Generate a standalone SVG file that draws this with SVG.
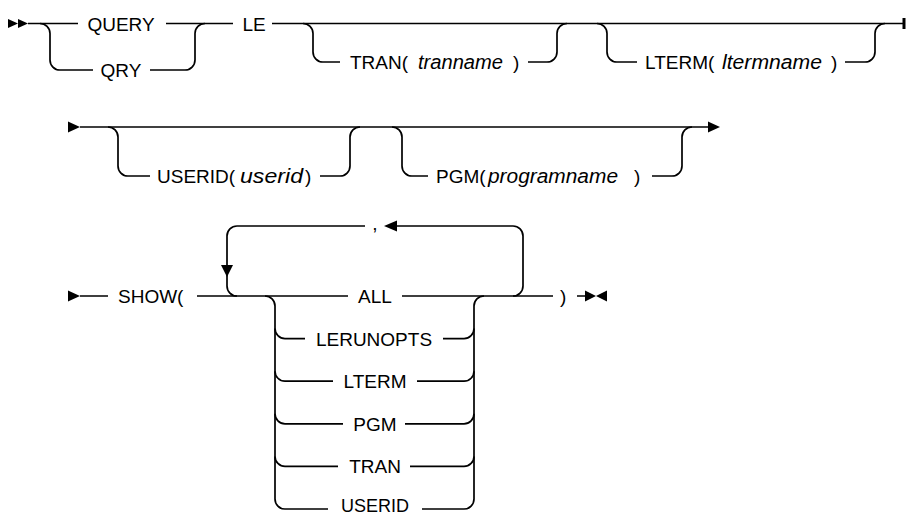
<svg xmlns="http://www.w3.org/2000/svg" width="906" height="516" viewBox="0 0 906 516">
<style>
  .ln { fill: none; stroke: #000; stroke-width: 1.7; }
  .ah { fill: #000; stroke: none; }
  text { font-family: "Liberation Sans", Arial, sans-serif; font-size: 19px; fill: #000; }
  .c { text-anchor: middle; }
  .it { font-style: italic; font-size: 20.5px; }
</style>
<rect width="906" height="516" fill="#fff"/>
<g id="connectors">
  <!-- Row 1 -->
  <path class="ln" d="M28 23.5 H78 M166 23.5 H233 M272 23.5 H903"/>
  <path class="ln" d="M40 23.5 A10 10 0 0 1 50 33.5 V60 A10 10 0 0 0 60 70 H93 M150 70 H185 A10 10 0 0 0 195 60 V33.5 A10 10 0 0 1 205 23.5"/>
  <path class="ln" d="M303 23.5 A10 10 0 0 1 313 33.5 V52 A10 10 0 0 0 323 62 H340 M528 62 H547 A10 10 0 0 0 557 52 V33.5 A10 10 0 0 1 567 23.5"/>
  <path class="ln" d="M597 23.5 A10 10 0 0 1 607 33.5 V52 A10 10 0 0 0 617 62 H637 M845 62 H865 A10 10 0 0 0 875 52 V33.5 A10 10 0 0 1 885 23.5"/>
  <polygon class="ah" points="8,19 18,23.5 8,28"/>
  <polygon class="ah" points="18,19 28,23.5 18,28"/>
  <rect class="ah" x="902.5" y="18" width="3" height="11"/>
  <!-- Row 2 -->
  <path class="ln" d="M80 127 H709"/>
  <path class="ln" d="M108 127 A10 10 0 0 1 118 137 V166 A10 10 0 0 0 128 176 H150 M320 176 H340 A10 10 0 0 0 350 166 V137 A10 10 0 0 1 360 127"/>
  <path class="ln" d="M392 127 A10 10 0 0 1 402 137 V166 A10 10 0 0 0 412 176 H428 M652 176 H672 A10 10 0 0 0 682 166 V137 A10 10 0 0 1 692 127"/>
  <polygon class="ah" points="68,121.5 80,127 68,132.5"/>
  <polygon class="ah" points="708,121.5 720,127 708,132.5"/>
  <!-- Row 3 -->
  <path class="ln" d="M80 296 H108 M197 296 H348 M402 296 H553 M577 296 H586"/>
  <polygon class="ah" points="68,290.5 80,296 68,301.5"/>
  <polygon class="ah" points="585,290.5 596,296 585,301.5"/>
  <polygon class="ah" points="607,290.5 596,296 607,301.5"/>
  <!-- repeat loop -->
  <path class="ln" d="M237 296 A10 10 0 0 1 227 286 V236 A10 10 0 0 1 237 226 H365 M397 226 H513 A10 10 0 0 1 523 236 V286 A10 10 0 0 1 513 296"/>
  <polygon class="ah" points="221,265 233,265 227,277"/>
  <polygon class="ah" points="384,226 397,220.5 397,231.5"/>
  <!-- choice -->
  <path class="ln" d="M265 296 A10 10 0 0 1 275 306 V499 A10 10 0 0 0 285 509"/>
  <path class="ln" d="M275 328.6 A10 10 0 0 0 285 338.6 H305 M275 371.2 A10 10 0 0 0 285 381.2 H333 M275 413.8 A10 10 0 0 0 285 423.8 H343 M275 456.4 A10 10 0 0 0 285 466.4 H338 M285 509 H328"/>
  <path class="ln" d="M484 296 A10 10 0 0 0 474 306 V499 A10 10 0 0 1 464 509 H422"/>
  <path class="ln" d="M443 338.6 H464 A10 10 0 0 0 474 328.6 M417 381.2 H464 A10 10 0 0 0 474 371.2 M405 423.8 H464 A10 10 0 0 0 474 413.8 M410 466.4 H464 A10 10 0 0 0 474 456.4"/>
</g>
<g id="n-query"><text class="c" x="121" y="30.5">QUERY</text></g>
<g id="n-qry"><text class="c" x="121" y="77">QRY</text></g>
<g id="n-le"><text class="c" x="254" y="30.5">LE</text></g>
<g id="n-tran"><text x="350" y="69">TRAN(</text><text class="it" x="418" y="69" textLength="85" lengthAdjust="spacingAndGlyphs">tranname</text><text x="513" y="69">)</text></g>
<g id="n-lterm"><text x="645" y="69">LTERM(</text><text class="it" x="722" y="69" textLength="100" lengthAdjust="spacingAndGlyphs">ltermname</text><text x="831" y="69">)</text></g>
<g id="n-userid"><text x="157" y="183">USERID(</text><text class="it" x="240" y="183" textLength="63" lengthAdjust="spacingAndGlyphs">userid</text><text x="305" y="183">)</text></g>
<g id="n-pgm"><text x="436" y="183">PGM(</text><text class="it" x="488" y="183" textLength="130" lengthAdjust="spacingAndGlyphs">programname</text><text x="634" y="183">)</text></g>
<g id="n-show"><text x="118" y="303">SHOW(</text></g>
<g id="n-comma"><text class="c" x="375" y="230">,</text></g>
<g id="n-all"><text class="c" x="375" y="303">ALL</text></g>
<g id="n-lerunopts"><text class="c" x="374" y="345.6">LERUNOPTS</text></g>
<g id="n-lterm2"><text class="c" x="375" y="388.2">LTERM</text></g>
<g id="n-pgm2"><text class="c" x="375" y="430.8">PGM</text></g>
<g id="n-tran2"><text class="c" x="375" y="473.4">TRAN</text></g>
<g id="n-userid2"><text class="c" x="375" y="512" style="font-size:18px">USERID</text></g>
<g id="n-close"><text x="560" y="303">)</text></g>
</svg>
